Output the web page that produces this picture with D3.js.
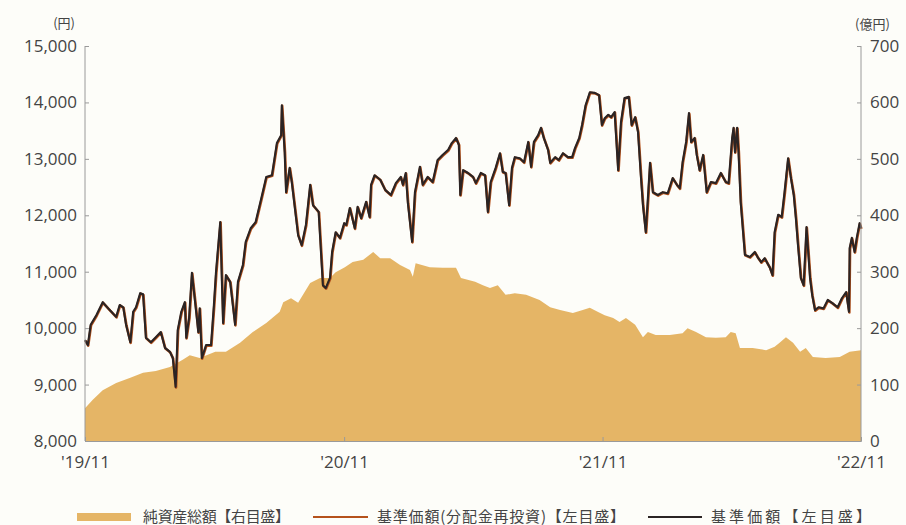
<!DOCTYPE html>
<html>
<head>
<meta charset="utf-8">
<script src="https://cdn.jsdelivr.net/npm/d3@7"></script>
<style>
  body { margin: 0; background: #fdfdf9; }
  text { font-family: "Open Sans", "Noto Sans CJK JP", sans-serif; }
</style>
</head>
<body>
<div id="chart"></div>
<script>
// days since 2019/11/01 and 基準価額 (円)
var navDays = [0,4,8,16,25,35,44,49,54,58,64,68,72,78,82,86,93,100,107,113,120,124,128,131,136,141,143,147,151,157,160,162,165,171,178,182,185,191,195,199,205,212,216,223,227,234,241,249,256,264,271,277,278,282,284,289,292,301,306,312,318,322,330,336,340,346,349,354,360,366,369,374,381,385,390,397,402,404,409,417,424,432,439,446,449,453,456,462,466,473,477,484,491,498,505,513,518,524,528,530,534,541,548,552,559,565,569,573,580,586,590,594,599,603,607,614,620,626,630,634,640,644,648,654,657,664,669,675,682,688,692,698,702,707,713,720,726,730,734,739,743,748,753,757,762,768,772,777,781,785,788,792,795,798,802,809,816,823,830,836,840,844,849,853,856,861,864,868,873,878,884,891,898,905,909,914,916,918,921,923,926,932,939,946,950,955,960,967,971,974,979,984,988,993,997,1001,1004,1007,1011,1015,1019,1024,1027,1031,1036,1043,1049,1056,1063,1069,1075,1079,1080,1083,1087,1090,1094,1096];
var navValues = [9790,9700,10060,10230,10460,10320,10200,10410,10370,10060,9750,10290,10370,10620,10600,9830,9750,9840,9930,9650,9580,9470,8960,9970,10290,10460,9830,10180,10980,10290,9930,10350,9470,9700,9700,10400,10990,11880,10090,10940,10820,10060,10820,11120,11530,11770,11880,12300,12680,12710,13280,13420,13950,13120,12410,12840,12590,11650,11470,11830,12540,12180,12060,10760,10710,10890,11350,11700,11600,11860,11830,12130,11770,12150,11950,12240,11970,12540,12710,12630,12450,12360,12570,12680,12540,12750,12220,11530,12410,12860,12540,12680,12590,12980,13070,13160,13280,13370,13250,12360,12800,12750,12680,12570,12750,12710,12060,12590,12840,13100,12770,12750,12180,12840,13030,13010,12940,13300,12860,13300,13420,13550,13370,13160,12930,13030,12980,13100,13030,13030,13190,13370,13600,13950,14180,14170,14130,13600,13720,13780,13740,13830,12800,13650,14080,14100,13600,13740,13480,12710,12180,11700,12300,12930,12410,12360,12410,12390,12660,12540,12480,12940,13300,13810,13300,13370,13070,12800,13070,12410,12590,12570,12750,12590,12570,13370,13550,13120,13550,13120,12240,11300,11260,11350,11260,11170,11240,11080,10940,11700,12010,11970,12410,13010,12660,12360,11950,11470,10890,10760,11790,10890,10590,10320,10370,10350,10500,10440,10370,10530,10640,10290,11420,11600,11350,11600,11860,11770];
// 基準価額(分配金再投資) — no distributions, same as navValues
var reinvestValues = navValues;

// days since 2019/11/01 and 純資産総額 (億円)
var assetDays = [0,11,25,44,64,82,100,120,138,148,162,184,199,219,237,256,275,280,291,301,318,332,346,354,367,378,393,407,417,431,445,459,463,467,487,505,524,531,551,562,572,583,594,607,623,642,657,671,689,703,713,724,734,746,755,764,777,788,795,806,826,844,851,863,877,891,905,912,919,925,943,962,974,981,990,1000,1010,1018,1028,1046,1066,1080,1096];
var assetValues = [58,73,90,103,112,121,124,131,144,152,147,158,158,174,193,209,229,246,253,245,280,289,289,299,308,317,321,335,324,324,312,303,291,315,308,307,307,289,282,276,271,276,259,262,259,250,237,232,227,232,236,229,223,218,211,218,206,184,193,188,188,191,200,193,184,183,184,193,191,165,165,161,167,174,184,174,158,165,149,147,149,158,161];

var leftTicks = [8000,9000,10000,11000,12000,13000,14000,15000];
var rightTicks = [0,100,200,300,400,500,600,700];
var xTickDates = ["2019-11-01","2020-11-01","2021-11-01","2022-11-01"];
var xTickLabels = ["'19/11","'20/11","'21/11","'22/11"];
var legendLabels = ["純資産総額【右目盛】","基準価額(分配金再投資)【左目盛】","基準価額【左目盛】"];

var W = 906, H = 525;
var margin = {top: 46, right: 45, bottom: 84, left: 85};
var width = W - margin.left - margin.right,
    height = H - margin.top - margin.bottom;

var parse = d3.timeParse("%Y-%m-%d");
var start = parse("2019-11-01");

var svg = d3.select("#chart").append("svg")
  .attr("width", W).attr("height", H);
svg.append("rect").attr("width", W).attr("height", H).attr("fill", "#fdfdf9");

var g = svg.append("g").attr("transform", "translate(" + margin.left + "," + margin.top + ")");

var x = d3.scaleTime()
  .domain([start, parse("2022-11-01")])
  .range([0, width]);
var yL = d3.scaleLinear().domain([8000, 15000]).range([height, 0]);
var yR = d3.scaleLinear().domain([0, 700]).range([height, 0]);

var nav = navDays.map(function(d, i){ return {date: d3.timeDay.offset(start, d), v: navValues[i]}; });
var reinv = navDays.map(function(d, i){ return {date: d3.timeDay.offset(start, d), v: reinvestValues[i]}; });
var assets = assetDays.map(function(d, i){ return {date: d3.timeDay.offset(start, d), v: assetValues[i]}; });

var fillCol = "#e5b566", orangeCol = "#b5521c", blackCol = "#2b2424";

// area (right axis)
g.append("path")
  .datum(assets)
  .attr("fill", fillCol)
  .attr("d", d3.area()
    .x(function(d){ return x(d.date); })
    .y0(height)
    .y1(function(d){ return yR(d.v); }));

// lines (left axis)
var line = d3.line()
  .x(function(d){ return x(d.date); })
  .y(function(d){ return yL(d.v); });

g.append("path").datum(reinv)
  .attr("fill", "none").attr("stroke", orangeCol)
  .attr("stroke-width", 2.6).attr("stroke-linejoin", "round")
  .attr("transform", "translate(0.4,0.6)")
  .attr("d", line);
g.append("path").datum(nav)
  .attr("fill", "none").attr("stroke", blackCol)
  .attr("stroke-width", 2.1).attr("stroke-linejoin", "round")
  .attr("d", line);

// axes
var axisCol = "#9a9a9a", textCol = "#444";

var left = g.append("g")
  .call(d3.axisLeft(yL).tickValues(leftTicks).tickSize(-4).tickPadding(8).tickFormat(d3.format(",")));
var right = g.append("g").attr("transform", "translate(" + width + ",0)")
  .call(d3.axisRight(yR).tickValues(rightTicks).tickSize(-4).tickPadding(9));
var bottom = g.append("g").attr("transform", "translate(0," + height + ")")
  .call(d3.axisBottom(x).tickValues(xTickDates.map(parse)).tickSize(-4).tickPadding(15)
    .tickFormat(function(d, i){ return xTickLabels[i]; }));

[left, right, bottom].forEach(function(a){
  a.select(".domain").attr("stroke", axisCol);
  a.selectAll(".tick line").attr("stroke", axisCol);
  a.selectAll(".tick text").attr("fill", textCol).style("font-size", "17px")
    .style("font-family", "'Open Sans', sans-serif");
});
left.select(".domain").attr("d", "M0," + height + "V0");
right.select(".domain").attr("d", "M0," + height + "V0");

// units
svg.append("text").attr("x", 75).attr("y", 28).attr("text-anchor", "end")
  .attr("fill", textCol).style("font-size", "13px").style("font-family", "Noto Sans CJK JP").text("(円)");
svg.append("text").attr("x", 855).attr("y", 29).attr("text-anchor", "start")
  .attr("fill", textCol).style("font-size", "13px").style("font-family", "Noto Sans CJK JP").text("(億円)");

// legend
var lg = svg.append("g").attr("transform", "translate(0,517)");
var items = [
  {x: 77, w: 54, tx: 143, tw: 147, type: "area", col: fillCol},
  {x: 313, w: 55, tx: 377, tw: 248, type: "line", col: orangeCol},
  {x: 648, w: 54, tx: 711, tw: 160, type: "line", col: blackCol}
];
items.forEach(function(it, i){
  if (it.type === "area") {
    lg.append("rect").attr("x", it.x).attr("y", -4).attr("width", it.w).attr("height", 8).attr("fill", it.col);
  } else {
    lg.append("line").attr("x1", it.x).attr("x2", it.x + it.w).attr("y1", 0).attr("y2", 0)
      .attr("stroke", it.col).attr("stroke-width", 2.2);
  }
  lg.append("text").attr("x", it.tx).attr("y", 5)
    .attr("textLength", it.tw).attr("lengthAdjust", "spacing")
    .attr("fill", textCol).style("font-size", "15px").style("font-family", "Noto Sans CJK JP")
    .text(legendLabels[i]);
});
</script>
</body>
</html>
